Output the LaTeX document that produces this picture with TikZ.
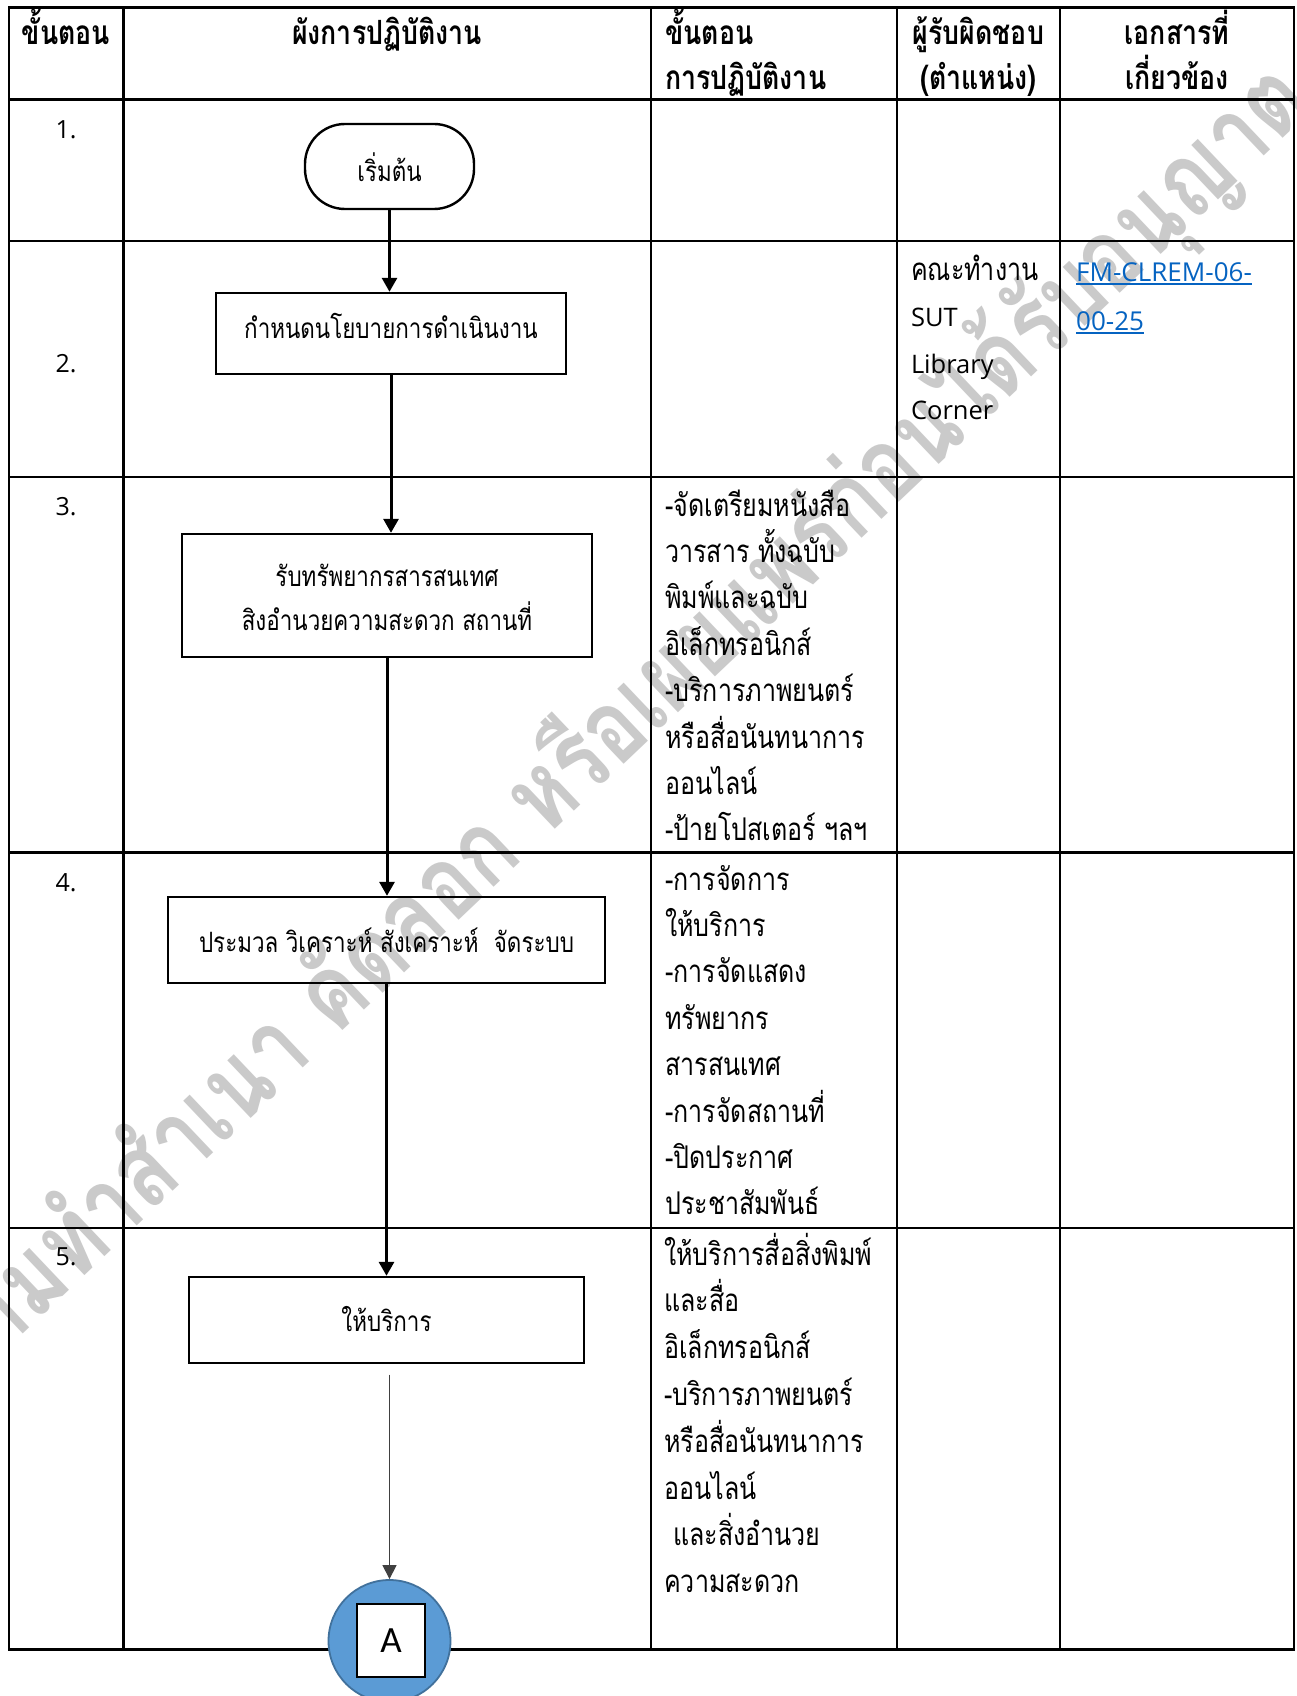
\documentclass[tikz,border=0pt]{standalone}
\usepackage{fontspec}
\setmainfont{Open Sans}
\newfontfamily\thai[Script=Thai,FakeStretch=0.8]{Loma}
\newfontfamily\thaiwm[Script=Thai,FakeStretch=0.8]{Loma}
\newfontfamily\latin{Open Sans}
\newfontfamily\calib{Carlito}
\usetikzlibrary{arrows.meta}
\definecolor{linkblue}{HTML}{0563C1}
\definecolor{cfill}{HTML}{5B9BD5}
\definecolor{cedge}{HTML}{41719C}
\definecolor{wmark}{HTML}{CACACA}
\newcommand\ulx[1]{\setbox0\hbox{#1}\rlap{\rule[-3.5pt]{\wd0}{1.6pt}}\box0}
\begin{document}
\begin{tikzpicture}[x=1pt,y=-1pt,
  grid/.style={line width=2.4pt},
  proc/.style={draw, line width=2.4pt, inner sep=0pt, font=\thai\fontsize{28}{43.5}\selectfont},
  arr/.style={line width=3pt, -{Triangle[length=14pt,width=15pt]}},
  thinarr/.style={line width=1.1pt, draw=black!75, -{Triangle[length=14pt,width=14pt]}},
  hdr/.style={font=\thai\bfseries\fontsize{33.4}{36}\selectfont, anchor=base, inner sep=0pt},
  hdrl/.style={hdr, anchor=base west},
  body/.style={font=\thai\fontsize{31.3}{36}\selectfont, anchor=base west, inner sep=0pt},
  lat/.style={font=\latin\fontsize{25.5}{30}\selectfont, anchor=base west, inner sep=0pt},
  num/.style={font=\latin\fontsize{25}{30}\selectfont, anchor=base, inner sep=0pt},
]
\useasboundingbox (0,0) rectangle (1297,1696);
\fill[white] (0,0) rectangle (1297,1696);

% watermark
\node[rotate=43.5, inner sep=0pt, font=\thaiwm\bfseries\fontsize{104}{110}\selectfont, text=wmark] (wm) at (618,728) {ห้ามทำสำเนา คัดลอก หรือเผยแพร่ก่อนได้รับอนุญาต};

% table grid
\draw[grid] (8.7,7.6) rectangle (1293.7,1649.6);
\foreach \x in {123.3,651.2,896.7,1060.1} \draw[grid] (\x,7.6) -- (\x,1649.6);
\foreach \y in {99.5,241.2,477.0,852.4,1227.7} \draw[grid] (8.7,\y) -- (1293.7,\y);

% header
\node[hdr] (h1) at (66,44.3) {ขั้นตอน};
\node[hdr] (h2) at (387,44.3) {ผังการปฏิบัติงาน};
\node[hdrl] (h3a) at (665,44.3) {ขั้นตอน};
\node[hdrl] (h3b) at (665,89.8) {การปฏิบัติงาน};
\node[hdr] (h4a) at (978.4,44.3) {ผู้รับผิดชอบ};
\node[hdr] (h4b) at (978.4,89.8) {(ตำแหน่ง)};
\node[hdr] (h5a) at (1177,44.3) {เอกสารที่};
\node[hdr] (h5b) at (1177,89.8) {เกี่ยวข้อง};

% step numbers
\node[num] (n1) at (66,138.5) {1.};
\node[num] (n2) at (66,372) {2.};
\node[num] (n3) at (66,515) {3.};
\node[num] (n4) at (66,891) {4.};
\node[num] (n5) at (66,1265.6) {5.};

% flowchart
\node[proc, rounded corners=40pt, minimum width=169pt, minimum height=85pt, text height=30.4pt, text depth=0pt] (start) at (389.5,166.5) {เริ่มต้น};
\node[proc, minimum width=350pt, minimum height=81pt, text height=10.2pt, text depth=0pt] (box2) at (391,333.5) {กำหนดนโยบายการดำเนินงาน};
\node[proc, minimum width=410pt, minimum height=123pt, text height=0pt, text depth=18pt] (box3) at (387,595.5) {\begin{tabular}[t]{@{}c@{}}รับทรัพยากรสารสนเทศ\\สิงอำนวยความสะดวก สถานที่\end{tabular}};
\node[proc, minimum width=437pt, minimum height=86pt, text height=24pt, text depth=0pt] (box4) at (386.5,940) {ประมวล วิเคราะห์ สังเคราะห์ \ จัดระบบ};
\node[proc, minimum width=395pt, minimum height=86pt, text height=23.4pt, text depth=0pt] (box5) at (386.5,1320) {ให้บริการ};
\node[circle, fill=cfill, draw=cedge, line width=1.8pt, minimum size=122pt, inner sep=0pt] (A) at (389.5,1641) {};
\node[draw, fill=white, line width=1.5pt, minimum width=68pt, minimum height=73pt, inner sep=0pt, font=\calib\fontsize{37}{40}\selectfont] (Abox) at (391,1640.5) {A};

\draw[arr] (start.south) -- (start.south |- box2.north);
\draw[arr] (box2.south) -- (box2.south |- box3.north);
\draw[arr] (box3.south) -- (box3.south |- box4.north);
\draw[arr] (box4.south) -- (box4.south |- box5.north);
\coordinate (c5) at ([yshift=-10.5pt]box5.south -| A.north);
\draw[thinarr] (c5) -- (A.north);

% responsible / documents
\node[body] (resp1) at (910.8,280) {คณะทำงาน};
\node[lat] (resp2) at (910.8,326.7) {SUT};
\node[lat] (resp3) at (910.8,373) {Library};
\node[lat] (resp4) at (910.8,419.7) {Corner};
\node[lat, font=\latin\fontsize{26}{30}\selectfont, text=linkblue] (doc1) at (1076,281) {\ulx{FM-CLREM-06-}};
\node[lat, font=\latin\fontsize{26}{30}\selectfont, text=linkblue] (doc2) at (1076,330) {\ulx{00-25}};

% step descriptions
\foreach \t [count=\i from 0] in {-จัดเตรียมหนังสือ, วารสาร ทั้งฉบับ, พิมพ์และฉบับ, อิเล็กทรอนิกส์, -บริการภาพยนตร์, หรือสื่อนันทนาการ, ออนไลน์, -ป้ายโปสเตอร์ ฯลฯ}
  \node[body] (d3-\i) at (665,{516+46.4*\i}) {\t};
\foreach \t [count=\i from 0] in {-การจัดการ, ให้บริการ, -การจัดแสดง, ทรัพยากร, สารสนเทศ, -การจัดสถานที่, -ปิดประกาศ, ประชาสัมพันธ์}
  \node[body] (d4-\i) at (665,{890+46.4*\i}) {\t};
\foreach \t [count=\i from 0] in {ให้บริการสื่อสิ่งพิมพ์, และสื่อ, อิเล็กทรอนิกส์, -บริการภาพยนตร์, หรือสื่อนันทนาการ, ออนไลน์, {\hspace{9pt}และสิ่งอำนวย}, ความสะดวก}
  \node[body] (d5-\i) at (664,{1265+46.8*\i}) {\t};
\end{tikzpicture}
\end{document}
